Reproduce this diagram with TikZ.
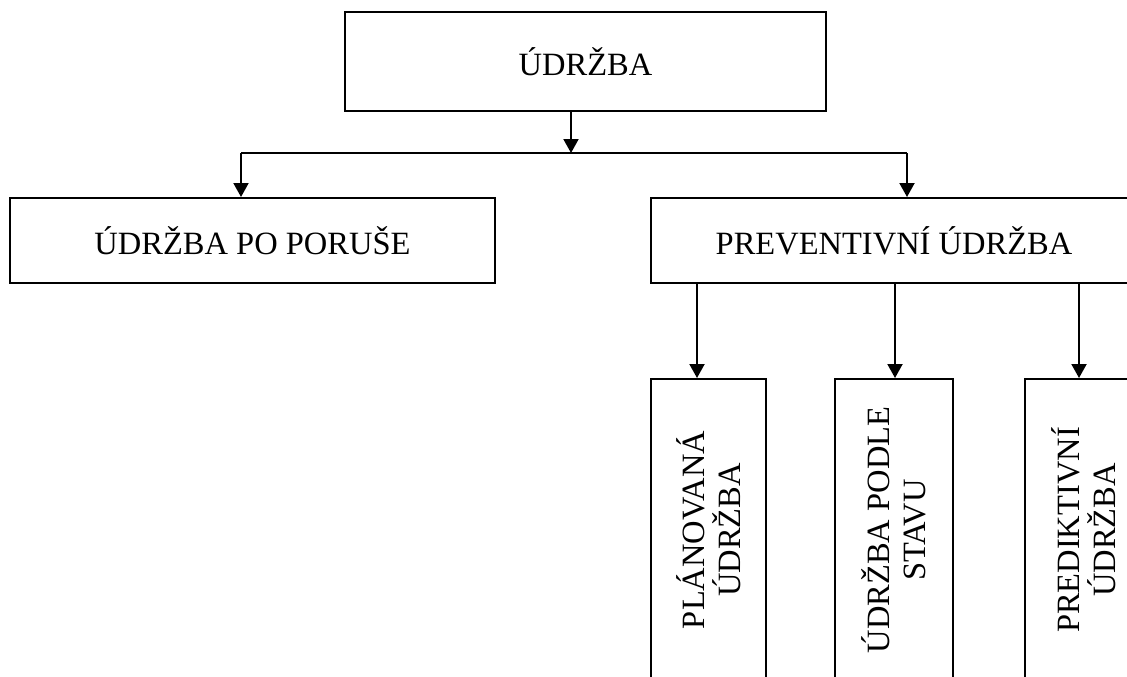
\documentclass[tikz,border=0pt]{standalone}
\usepackage{fontspec}
\setmainfont{Liberation Serif}
\usetikzlibrary{arrows.meta}
\begin{document}
\begin{tikzpicture}[x=1pt,y=-1pt,
  box/.style={draw=black, line width=2pt, rectangle, inner sep=0pt, align=center,
    font=\fontsize{32.5}{36}\selectfont},
  conn/.style={line width=2pt},
  arr/.style={line width=2pt, -{Triangle[length=14pt,width=15pt]}}]
\useasboundingbox (0,0) rectangle (1127,677);
\clip (0,0) rectangle (1127,677);
\node[box, minimum width=481, minimum height=99] (top) at (585.5,61.5) {ÚDRŽBA};
\node[box, minimum width=485, minimum height=85] (left) at (252.5,240.5) {ÚDRŽBA PO PORUŠE};
\node[box, minimum width=486, minimum height=85] (right) at (894,240.5) {PREVENTIVNÍ ÚDRŽBA};
\node[box, rotate=90, minimum width=302, minimum height=115] (c1) at (708.5,530) {PLÁNOVANÁ\\ÚDRŽBA};
\node[box, rotate=90, minimum width=302, minimum height=118] (c2) at (894,530) {ÚDRŽBA PODLE\\STAVU};
\node[box, rotate=90, minimum width=302, minimum height=118] (c3) at (1084,530) {PREDIKTIVNÍ\\ÚDRŽBA};
\coordinate (j) at (571,153);
\coordinate (jl) at (241,153);
\coordinate (jr) at (907,153);
\draw[arr] (top.south -| j) -- (j);
\draw[conn] (jl) -- (jr);
\draw[arr] (jl) -- (jl |- left.north);
\draw[arr] (jr) -- (jr |- right.north);
\draw[arr] (right.south -| 697,0) -- (c1.east -| 697,0);
\draw[arr] (right.south -| 895,0) -- (c2.east -| 895,0);
\draw[arr] (right.south -| 1079,0) -- (c3.east -| 1079,0);
\end{tikzpicture}
\end{document}
